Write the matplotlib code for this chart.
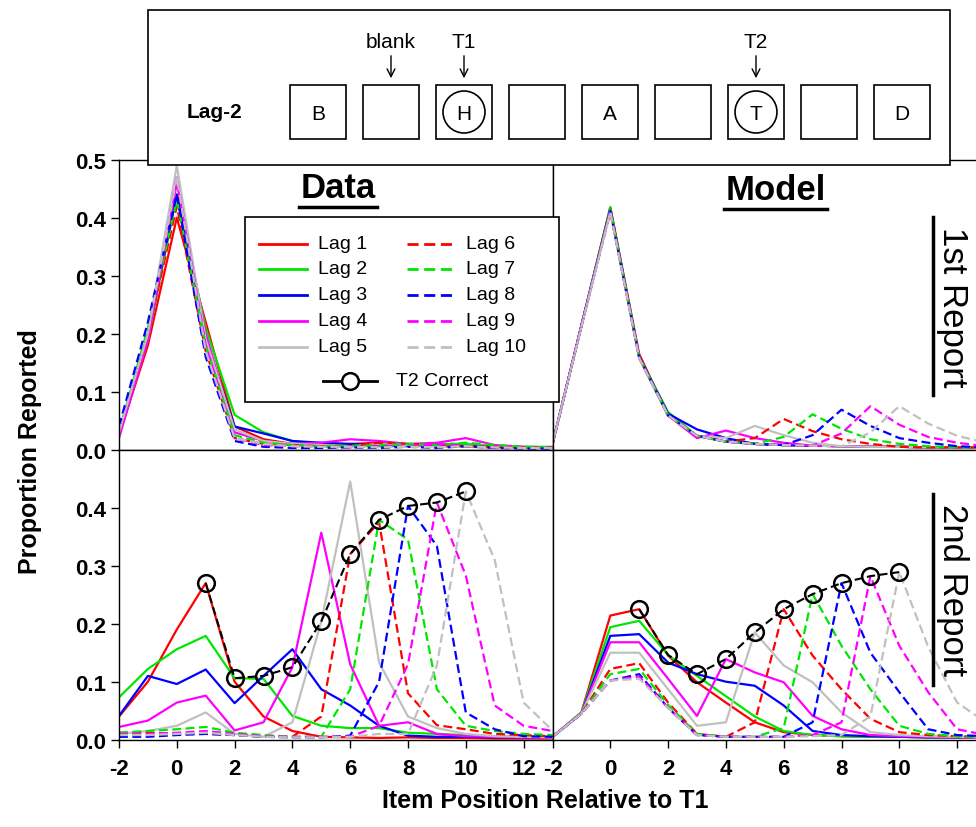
import matplotlib.pyplot as plt
from matplotlib.patches import Rectangle, Circle

plt.rcParams['font.family'] = ['Liberation Sans', 'DejaVu Sans']

# item positions relative to T1
positions = list(range(-2, 14))
lags = list(range(1, 11))
lag_names = ['Lag %d' % k for k in lags]
lag_colors = ['#ff0000', '#00e600', '#0000ff', '#ff00ff', '#c0c0c0'] * 2
lag_dashed = [False] * 5 + [True] * 5

# Data, 1st report (one list per lag, x = -2 .. 13)
data_first = [
    [0.025, 0.18, 0.40, 0.22, 0.04, 0.018, 0.01, 0.008, 0.01, 0.012, 0.008, 0.006, 0.005, 0.004, 0.004, 0.004],
    [0.025, 0.19, 0.44, 0.21, 0.06, 0.03, 0.015, 0.01, 0.008, 0.006, 0.008, 0.01, 0.01, 0.006, 0.005, 0.005],
    [0.03, 0.20, 0.44, 0.19, 0.04, 0.028, 0.015, 0.012, 0.01, 0.008, 0.006, 0.008, 0.006, 0.005, 0.004, 0.004],
    [0.02, 0.19, 0.46, 0.20, 0.03, 0.015, 0.01, 0.012, 0.018, 0.015, 0.01, 0.012, 0.02, 0.008, 0.005, 0.004],
    [0.03, 0.20, 0.49, 0.19, 0.035, 0.015, 0.01, 0.008, 0.006, 0.01, 0.008, 0.006, 0.005, 0.004, 0.003, 0.003],
    [0.03, 0.20, 0.42, 0.17, 0.02, 0.01, 0.008, 0.006, 0.006, 0.012, 0.01, 0.008, 0.006, 0.005, 0.004, 0.004],
    [0.03, 0.21, 0.43, 0.18, 0.025, 0.012, 0.008, 0.006, 0.006, 0.008, 0.01, 0.008, 0.012, 0.008, 0.005, 0.004],
    [0.04, 0.22, 0.44, 0.16, 0.015, 0.005, 0.003, 0.003, 0.004, 0.003, 0.005, 0.003, 0.006, 0.003, 0.002, 0.002],
    [0.03, 0.19, 0.47, 0.18, 0.02, 0.008, 0.006, 0.005, 0.004, 0.006, 0.005, 0.01, 0.006, 0.004, 0.003, 0.003],
    [0.03, 0.20, 0.47, 0.17, 0.02, 0.01, 0.006, 0.005, 0.005, 0.004, 0.005, 0.004, 0.006, 0.004, 0.003, 0.003],
]

# Data, 2nd report
data_second = [
    [0.04, 0.10, 0.19, 0.27, 0.10, 0.04, 0.015, 0.005, 0.004, 0.003, 0.004, 0.003, 0.003, 0.002, 0.002, 0.002],
    [0.073, 0.122, 0.156, 0.179, 0.106, 0.105, 0.041, 0.024, 0.02, 0.02, 0.012, 0.01, 0.008, 0.006, 0.005, 0.005],
    [0.041, 0.11, 0.096, 0.121, 0.063, 0.11, 0.156, 0.087, 0.059, 0.024, 0.007, 0.005, 0.005, 0.004, 0.004, 0.004],
    [0.022, 0.033, 0.064, 0.076, 0.016, 0.03, 0.125, 0.357, 0.13, 0.024, 0.03, 0.01, 0.006, 0.005, 0.004, 0.004],
    [0.01, 0.015, 0.024, 0.047, 0.01, 0.005, 0.03, 0.204, 0.445, 0.133, 0.04, 0.02, 0.01, 0.006, 0.005, 0.004],
    [0.012, 0.012, 0.01, 0.01, 0.008, 0.005, 0.005, 0.04, 0.32, 0.375, 0.08, 0.025, 0.018, 0.01, 0.008, 0.006],
    [0.012, 0.015, 0.018, 0.022, 0.012, 0.008, 0.005, 0.005, 0.087, 0.379, 0.345, 0.087, 0.024, 0.015, 0.01, 0.008],
    [0.005, 0.005, 0.008, 0.01, 0.008, 0.005, 0.004, 0.004, 0.007, 0.10, 0.403, 0.334, 0.047, 0.018, 0.006, 0.005],
    [0.01, 0.01, 0.012, 0.015, 0.01, 0.006, 0.005, 0.005, 0.005, 0.024, 0.13, 0.409, 0.283, 0.059, 0.024, 0.015],
    [0.008, 0.008, 0.01, 0.012, 0.008, 0.005, 0.004, 0.004, 0.005, 0.01, 0.01, 0.128, 0.428, 0.31, 0.064, 0.016],
]

# Model, 1st report
model_first = [
    [0.01, 0.214, 0.418, 0.165, 0.059, 0.024, 0.014, 0.01, 0.008, 0.007, 0.006, 0.005, 0.005, 0.004, 0.004, 0.004],
    [0.01, 0.214, 0.418, 0.16, 0.065, 0.024, 0.014, 0.01, 0.008, 0.007, 0.006, 0.005, 0.005, 0.004, 0.004, 0.004],
    [0.01, 0.214, 0.415, 0.16, 0.062, 0.035, 0.02, 0.01, 0.008, 0.007, 0.006, 0.005, 0.005, 0.004, 0.004, 0.004],
    [0.01, 0.212, 0.412, 0.158, 0.059, 0.02, 0.033, 0.02, 0.012, 0.007, 0.006, 0.005, 0.005, 0.004, 0.004, 0.004],
    [0.01, 0.212, 0.41, 0.158, 0.059, 0.024, 0.02, 0.041, 0.025, 0.012, 0.006, 0.005, 0.005, 0.004, 0.004, 0.004],
    [0.01, 0.214, 0.415, 0.16, 0.059, 0.024, 0.014, 0.02, 0.053, 0.032, 0.018, 0.01, 0.005, 0.004, 0.004, 0.004],
    [0.01, 0.214, 0.415, 0.16, 0.059, 0.024, 0.014, 0.01, 0.022, 0.061, 0.036, 0.018, 0.01, 0.006, 0.004, 0.004],
    [0.01, 0.214, 0.412, 0.16, 0.059, 0.024, 0.014, 0.01, 0.008, 0.025, 0.069, 0.041, 0.02, 0.012, 0.006, 0.004],
    [0.01, 0.214, 0.41, 0.158, 0.059, 0.024, 0.014, 0.01, 0.008, 0.007, 0.028, 0.075, 0.043, 0.022, 0.012, 0.006],
    [0.01, 0.212, 0.41, 0.158, 0.059, 0.024, 0.014, 0.01, 0.008, 0.007, 0.006, 0.03, 0.075, 0.045, 0.024, 0.012],
]

# Model, 2nd report
model_second = [
    [0.005, 0.047, 0.214, 0.225, 0.145, 0.099, 0.064, 0.03, 0.013, 0.008, 0.006, 0.005, 0.005, 0.004, 0.004, 0.004],
    [0.005, 0.047, 0.194, 0.205, 0.146, 0.11, 0.075, 0.04, 0.015, 0.008, 0.006, 0.005, 0.005, 0.004, 0.004, 0.004],
    [0.005, 0.045, 0.179, 0.182, 0.133, 0.113, 0.10, 0.093, 0.059, 0.015, 0.008, 0.006, 0.005, 0.004, 0.004, 0.004],
    [0.005, 0.045, 0.168, 0.168, 0.105, 0.041, 0.139, 0.116, 0.099, 0.041, 0.018, 0.008, 0.006, 0.005, 0.004, 0.004],
    [0.005, 0.045, 0.15, 0.15, 0.087, 0.024, 0.03, 0.185, 0.128, 0.099, 0.047, 0.013, 0.008, 0.006, 0.005, 0.004],
    [0.005, 0.045, 0.122, 0.132, 0.064, 0.01, 0.005, 0.03, 0.225, 0.145, 0.087, 0.036, 0.013, 0.008, 0.006, 0.005],
    [0.005, 0.045, 0.113, 0.122, 0.06, 0.01, 0.005, 0.005, 0.02, 0.251, 0.162, 0.087, 0.024, 0.01, 0.006, 0.005],
    [0.005, 0.045, 0.102, 0.113, 0.055, 0.008, 0.005, 0.005, 0.005, 0.03, 0.27, 0.15, 0.082, 0.018, 0.008, 0.006],
    [0.005, 0.045, 0.102, 0.109, 0.055, 0.008, 0.005, 0.005, 0.005, 0.008, 0.03, 0.282, 0.162, 0.082, 0.018, 0.008],
    [0.005, 0.045, 0.102, 0.105, 0.055, 0.008, 0.005, 0.005, 0.005, 0.006, 0.008, 0.04, 0.289, 0.16, 0.064, 0.03],
]

# trial schematic
stream_letters = ['B', '', 'H', '', 'A', '', 'T', '', 'D']
stream_targets = [False, False, True, False, False, False, True, False, False]
stream_pointers = {1: 'blank', 2: 'T1', 6: 'T2'}

W, H = 976, 828
fig = plt.figure(figsize=(W / 100, H / 100), dpi=100)


def px_axes(x0, y0, x1, y1):
    return fig.add_axes([x0 / W, 1 - y1 / H, (x1 - x0) / W, (y1 - y0) / H])


def draw_panel(ax, series, show_t2):
    for vals, col, dashed in zip(series, lag_colors, lag_dashed):
        if dashed:
            ax.plot(positions, vals, color=col, lw=1.6, dashes=(4, 2))
        else:
            ax.plot(positions, vals, color=col, lw=1.6)
    if show_t2:
        # T2 correct = each lag's curve at its own T2 position
        t2 = [series[k - 1][positions.index(k)] for k in lags]
        ax.plot(lags, t2, color='black', lw=1.5, dashes=(4, 2), marker='o',
                ms=12, mfc='none', mec='black', mew=1.8, zorder=5)
    ax.set_xlim(-2, 13)
    ax.set_ylim(0, 0.5)
    ax.tick_params(direction='out', length=6, width=1, pad=3)
    ax.tick_params(axis='x', pad=7)
    for sp in ax.spines.values():
        sp.set_linewidth(1)


ax_dt = px_axes(119, 160.7, 552.5, 450.7)
ax_mt = px_axes(552.5, 160.7, 986, 450.7)
ax_db = px_axes(119, 450.7, 552.5, 740.7)
ax_mb = px_axes(552.5, 450.7, 986, 740.7)

draw_panel(ax_dt, data_first, False)
draw_panel(ax_mt, model_first, False)
draw_panel(ax_db, data_second, True)
draw_panel(ax_mb, model_second, True)

xt = list(range(-2, 13, 2))
for ax in (ax_dt, ax_mt):
    ax.set_xticks([])
for ax in (ax_db, ax_mb):
    ax.set_xticks(xt, [str(v) for v in xt], fontsize=16, fontweight='bold')
for ax in (ax_mt, ax_mb):
    ax.set_yticks([])
yt_top = [0.0, 0.1, 0.2, 0.3, 0.4, 0.5]
yt_bot = [0.0, 0.1, 0.2, 0.3, 0.4]
ax_dt.set_yticks(yt_top, ['%.1f' % v for v in yt_top], fontsize=16, fontweight='bold')
ax_db.set_yticks(yt_bot, ['%.1f' % v for v in yt_bot], fontsize=16, fontweight='bold')

fig.text(30 / W, 1 - 452 / H, 'Proportion Reported', rotation=90, ha='center', va='center',
         fontsize=18, fontweight='bold')
fig.text(545 / W, 1 - 801 / H, 'Item Position Relative to T1', ha='center', va='center',
         fontsize=18, fontweight='bold')

# overlay in pixel coordinates for the schematic, titles and legend
ov = fig.add_axes([0, 0, 1, 1], zorder=5)
ov.set_xlim(0, W)
ov.set_ylim(H, 0)
ov.axis('off')

ov.add_patch(Rectangle((148, 11), 802, 155, fc='white', ec='black', lw=1.2))
ov.text(214, 113, 'Lag-2', ha='center', va='center', fontsize=15, fontweight='bold')
for i, (letter, target) in enumerate(zip(stream_letters, stream_targets)):
    cx = 318 + 73 * i
    ov.add_patch(Rectangle((cx - 28, 86), 56, 54, fc='none', ec='black', lw=1.2))
    if target:
        ov.add_patch(Circle((cx, 113), 21, fc='none', ec='black', lw=1.2))
    ov.text(cx, 114, letter, ha='center', va='center', fontsize=15)
    if i in stream_pointers:
        ov.text(cx, 43, stream_pointers[i], ha='center', va='center', fontsize=15)
        ov.annotate('', xy=(cx, 82), xytext=(cx, 54),
                    arrowprops=dict(arrowstyle='->', lw=1, color='black', mutation_scale=14))

ov.text(338, 188, 'Data', ha='center', va='center', fontsize=25, fontweight='bold')
ov.plot([299, 377], [208, 208], color='black', lw=2.5)
ov.text(776, 190, 'Model', ha='center', va='center', fontsize=25, fontweight='bold')
ov.plot([724, 827], [210, 210], color='black', lw=2.5)
ov.text(952, 307, '1st Report', rotation=-90, ha='center', va='center', fontsize=25)
ov.plot([933, 933], [218, 396], color='black', lw=2.5)
ov.text(952, 590, '2nd Report', rotation=-90, ha='center', va='center', fontsize=25)
ov.plot([933, 933], [495, 686], color='black', lw=2.5)

# legend
ov.add_patch(Rectangle((245, 218), 314, 185, fc='white', ec='black', lw=1.2))
rows_y = [245, 270, 296, 322, 348]
for i, (name, col, dashed) in enumerate(zip(lag_names, lag_colors, lag_dashed)):
    y = rows_y[i % 5]
    x0 = 407 if dashed else 259
    if dashed:
        ov.plot([x0, x0 + 48], [y, y], color=col, lw=2, dashes=(4, 2))
    else:
        ov.plot([x0, x0 + 48], [y, y], color=col, lw=2)
    ov.text(x0 + 59, y, name, ha='left', va='center', fontsize=14)
ov.plot([323, 377], [382, 382], color='black', lw=2)
ov.plot([350], [382], marker='o', ms=12, mfc='white', mec='black', mew=1.8)
ov.text(396, 382, 'T2 Correct', ha='left', va='center', fontsize=14)

fig.savefig('out.png', dpi=100)
